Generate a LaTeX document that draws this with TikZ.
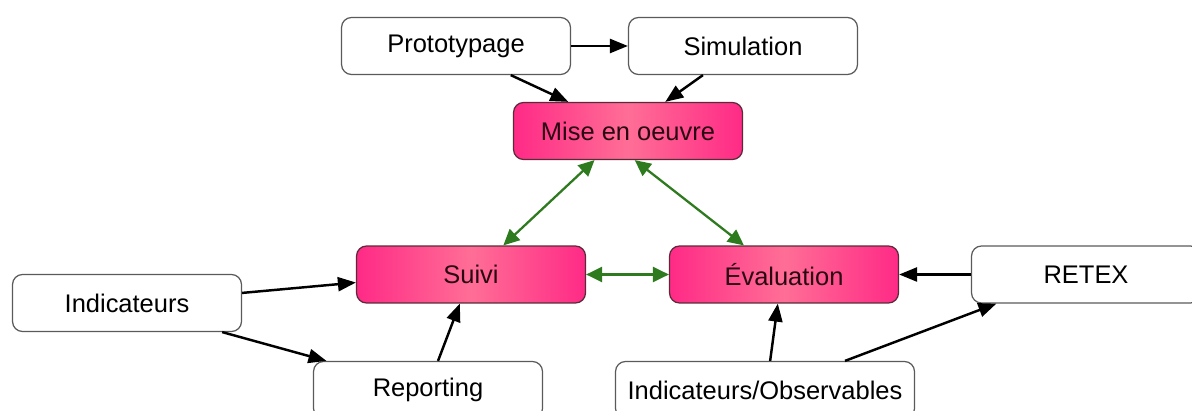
\documentclass[tikz,border=0pt]{standalone}
\usepackage{fontspec}
\setmainfont{Liberation Sans}
\usetikzlibrary{arrows.meta,positioning,calc}
\definecolor{pinkedge}{HTML}{FF2A86}
\definecolor{pinkmid}{HTML}{FF6E96}
\definecolor{pinktext}{HTML}{2A0812}
\definecolor{pinkline}{HTML}{5A2A38}
\definecolor{boxline}{HTML}{5A5A5A}
\definecolor{dgreen}{HTML}{2E7A1E}

\begin{document}
\begin{tikzpicture}[x=0.02cm, y=-0.02cm,
		box/.style={draw=boxline, line width=0.7pt, rounded corners=2mm, fill=white,
			minimum width=4.58cm, minimum height=1.14cm, inner sep=0pt,
			font=\fontsize{14.5}{17}\selectfont},
		hot/.style={box, draw=pinkline, left color=pinkedge, right color=pinkedge,
			middle color=pinkmid, text=pinktext},
		link/.style={line width=1.4pt, -{Triangle[length=3.6mm, width=2.8mm]}},
		both/.style={draw=dgreen, line width=1.3pt,
			{Triangle[length=3.2mm, width=3mm]}-{Triangle[length=3.2mm, width=3mm]}}]
		\useasboundingbox (0,0) rectangle (1192,411);

		\node[box] (proto) at (456,46) {Prototypage};
		\node[box] (simu) at (743,46) {Simulation};
		\node[hot] (mise) at (628,131) {Mise en oeuvre};
		\node[hot] (suivi) at (471,274.5) {Suivi};
		\node[hot] (eval) at (784,274.5) {Évaluation};
		\node[box] (indic) at (127,303) {Indicateurs};
		\node[box] (report) at (428,390) {Reporting};
		\node[box, minimum width=5.98cm] (indobs) at (765,390) {Indicateurs/Observables};
		\node[box] (retex) at (1086,274.5) {RETEX};

		\draw[link] (proto) -- (simu);
		\draw[link] (proto.-28) -- (mise.154);
		\draw[link] (simu.216) -- (mise.38);
		\draw[both] (mise.221) -- (suivi.42);
		\draw[both] (mise.283) -- (eval.144);
		\draw[both] (suivi) -- (eval);
		\draw[link] (indic.5) -- (suivi.184);
		\draw[link] (indic.-17) -- (report.164.5);
		\draw[link] (report.71) -- (suivi.249.5);
		\draw[link] (indobs.80) -- (eval.258.5);
		\draw[link] (indobs.20) -- (retex.198.5);
		\draw[link] (retex) -- (eval);
	\end{tikzpicture}
\end{document}
